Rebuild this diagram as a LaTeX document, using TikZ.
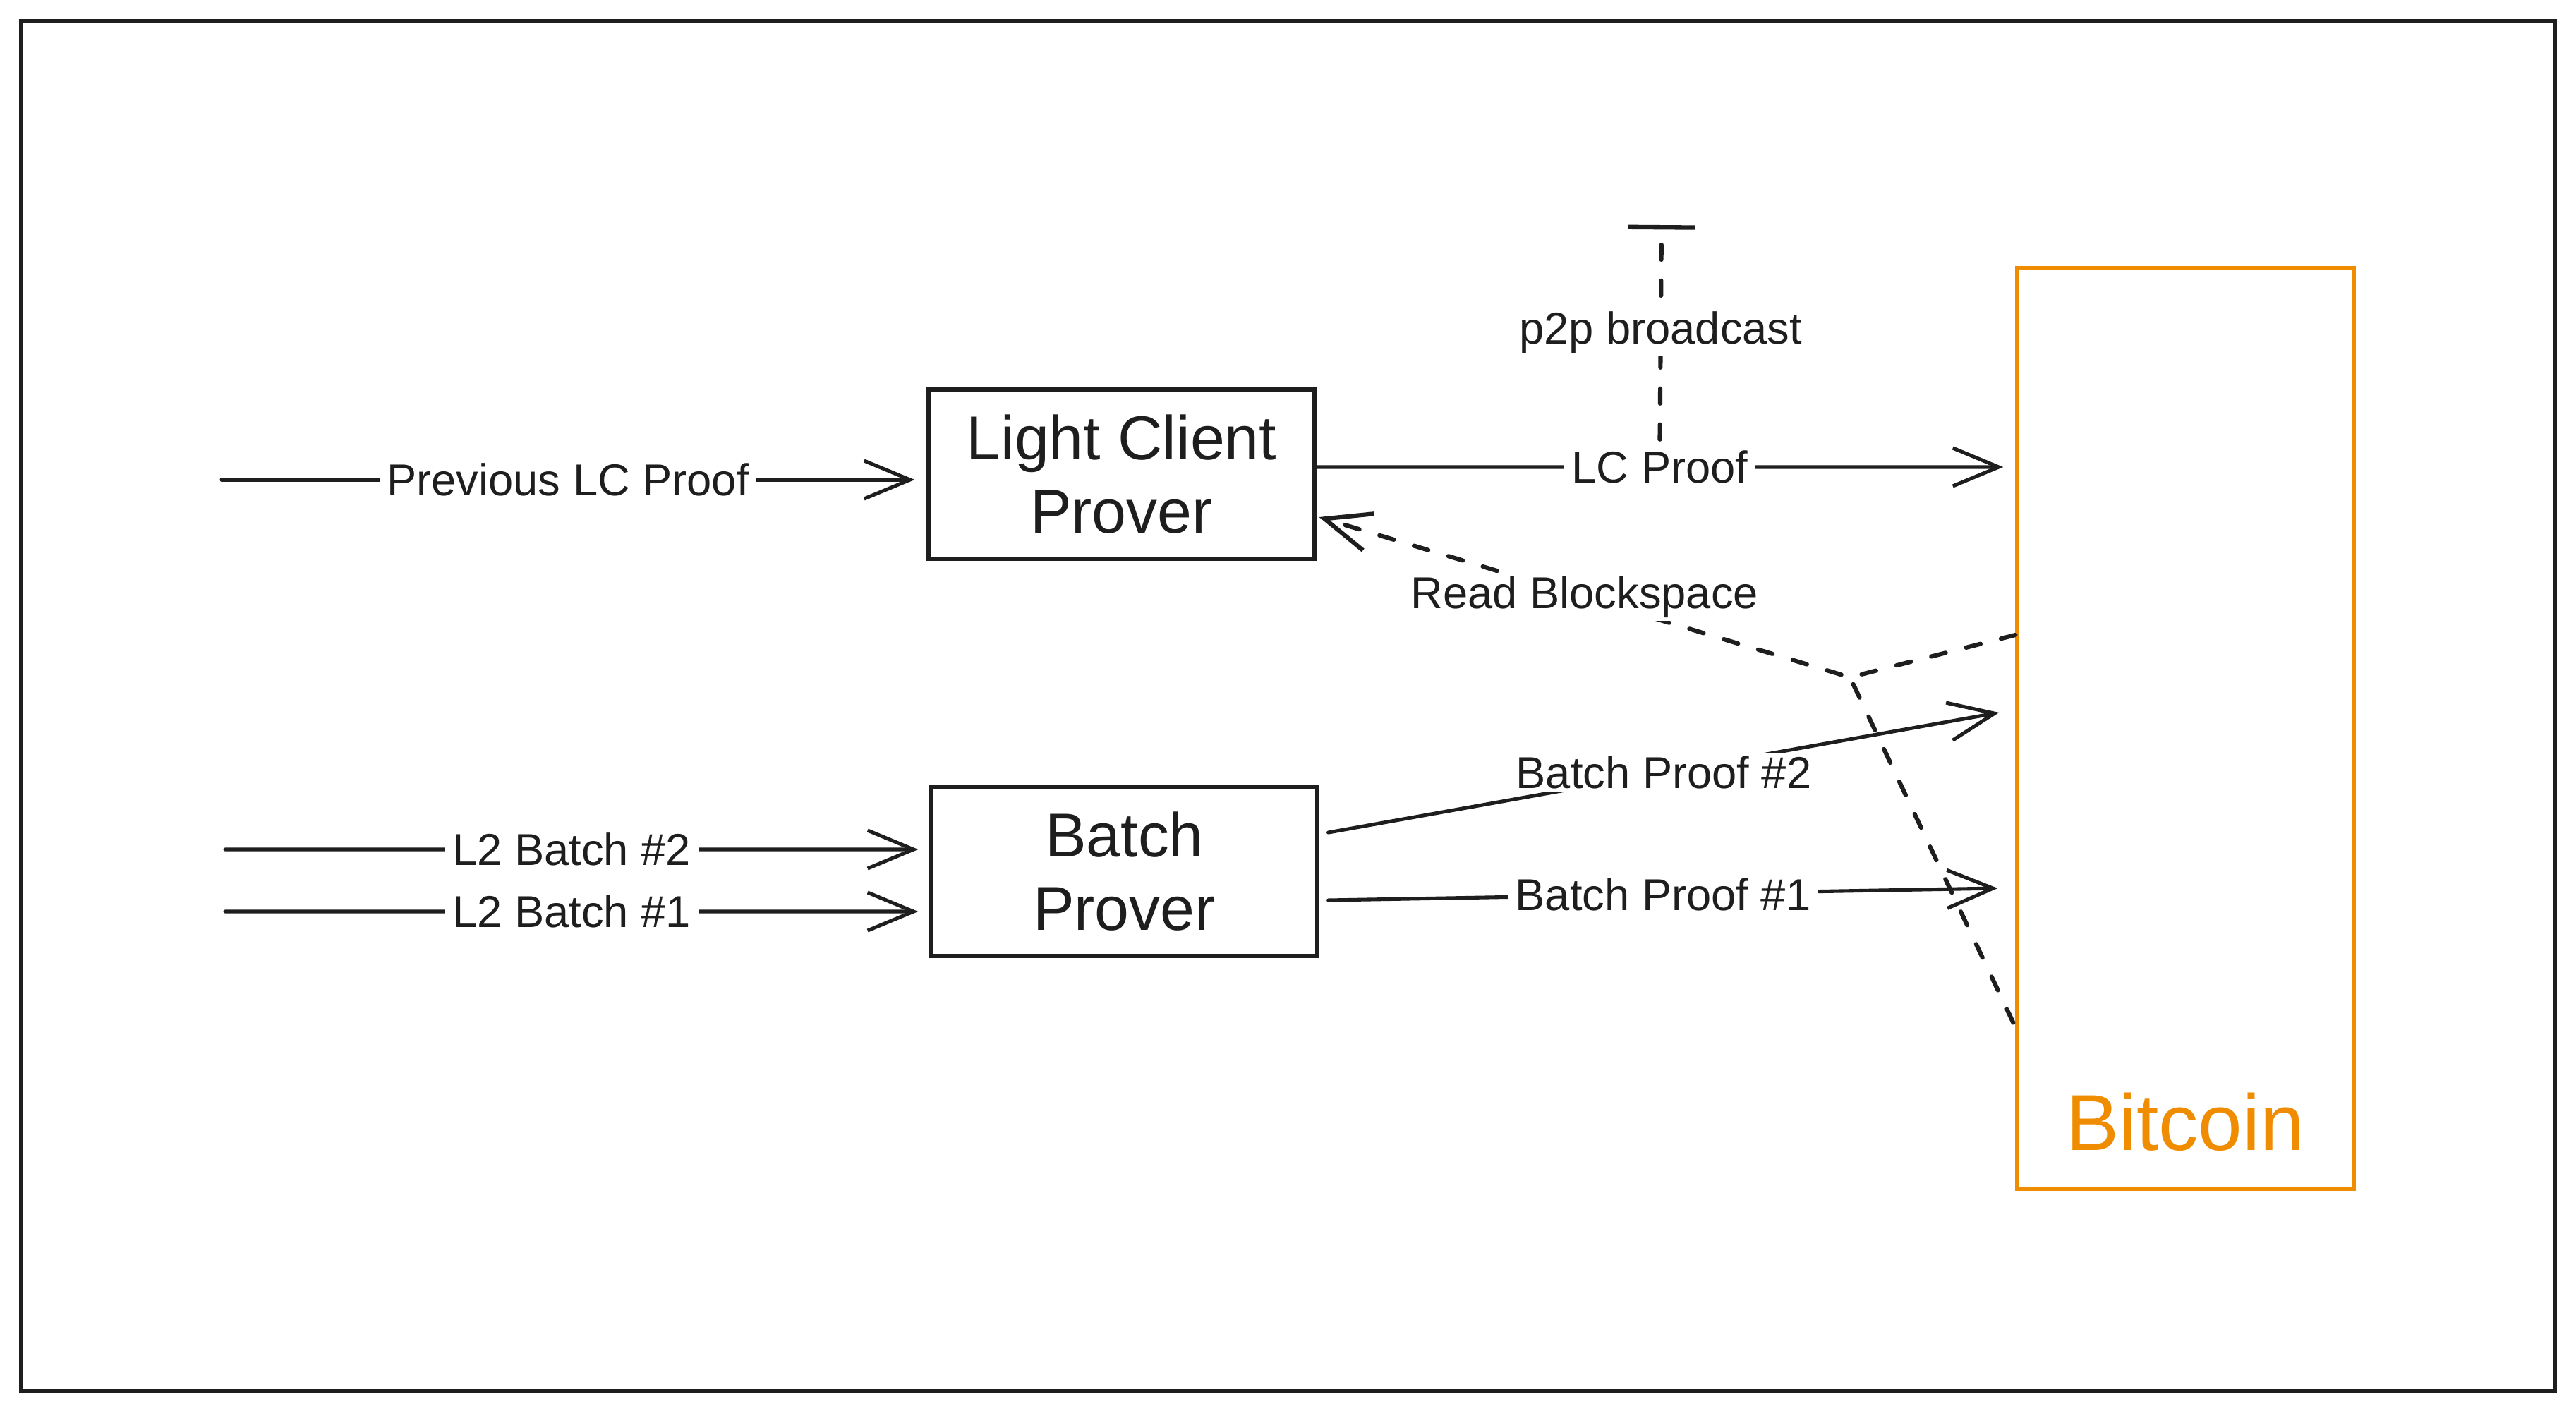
\documentclass[tikz,border=0pt]{standalone}
\usepackage{fontspec}
\setmainfont{Liberation Sans}
\usetikzlibrary{arrows.meta,calc}
\definecolor{ink}{HTML}{1E1E1E}
\definecolor{btcorange}{HTML}{F08C00}
\begin{document}
\begin{tikzpicture}[
  boxnode/.style={draw=ink, line width=1.5pt, minimum width=5.47cm, minimum height=2.40cm,
    inner sep=0pt, align=center, text=ink, font=\fontsize{25}{29.5}\selectfont},
  btcbox/.style={draw=btcorange, line width=1.5pt, minimum width=4.77cm, minimum height=13.05cm, inner sep=0pt},
  arr/.style={draw=ink, line width=1.45pt, line cap=round, -{Straight Barb[length=6.5mm,width=5.4mm]}},
  dashline/.style={draw=ink, line width=1.75pt, line cap=round, dash pattern=on 6pt off 8.5pt},
  lbl/.style={fill=white, text=ink, font=\fontsize{18}{21}\selectfont, inner xsep=3pt, inner ysep=1pt},
]
\useasboundingbox (0,0) rectangle (36.51,-19.99);
\fill[white] (0,0) rectangle (36.51,-19.99);
% outer frame
\draw[ink, line width=1.8pt] (0.30,-0.30) rectangle (36.21,-19.72);

% nodes
\node[boxnode] (lcp) at (15.895,-6.72) {Light Client\\Prover};
\node[boxnode] (bp) at (15.935,-12.35) {Batch\\Prover};
\node[btcbox] (btc) at (30.975,-10.325) {};
\node[text=btcorange, font=\fontsize{32}{38}\selectfont, anchor=base] (btclbl) at (30.97,-16.30) {Bitcoin};

% free ends
\coordinate (prevsrc) at (3.14,-6.80);
\coordinate (l2btwo) at (3.19,-12.04);
\coordinate (l2bone) at (3.19,-12.92);
\coordinate (p2ptop) at (23.55,-3.19);
\coordinate (elbow) at (26.22,-9.60);

% inputs
\draw[arr] (prevsrc) -- ([shift={(-0.17,-0.08)}]lcp.west)
  node[lbl, midway] (lprev) {Previous LC Proof};
\draw[arr] (l2btwo) -- ([shift={(-0.16,0.31)}]bp.west)
  node[lbl, midway] (ll2two) {L2 Batch \#2};
\draw[arr] (l2bone) -- ([shift={(-0.16,-0.57)}]bp.west)
  node[lbl, midway] (ll2one) {L2 Batch \#1};

% LC proof
\draw[arr] ([yshift=1mm]lcp.east) -- ([shift={(-0.17,3.705)}]btc.west)
  node[lbl, midway] (llc) {LC Proof};

% p2p broadcast
\draw[dashline, -{Bar[width=9.5mm, line width=1.8pt]}] ([yshift=1mm]llc.north) -- (p2ptop)
  node[lbl, midway] (lp2p) {p2p broadcast};

% read blockspace
\draw[dashline, -{Straight Barb[length=6.5mm,width=5.4mm]}] ([yshift=13.25mm]btc.west) -- (elbow)
  -- ([shift={(0.04,-0.61)}]lcp.east)
  node[lbl, midway] (lread) {Read Blockspace};
\draw[dashline] ([shift={(-0.03,-4.17)}]btc.west) -- (elbow);

% batch proofs
\draw[arr] ([shift={(0.13,0.55)}]bp.east) -- ([shift={(-0.23,0.225)}]btc.west)
  node[lbl, midway] (lbp2) {Batch Proof \#2};
\draw[arr] ([shift={(0.13,-0.41)}]bp.east) -- ([shift={(-0.25,-2.265)}]btc.west)
  node[lbl, midway] (lbp1) {Batch Proof \#1};
\end{tikzpicture}
\end{document}
